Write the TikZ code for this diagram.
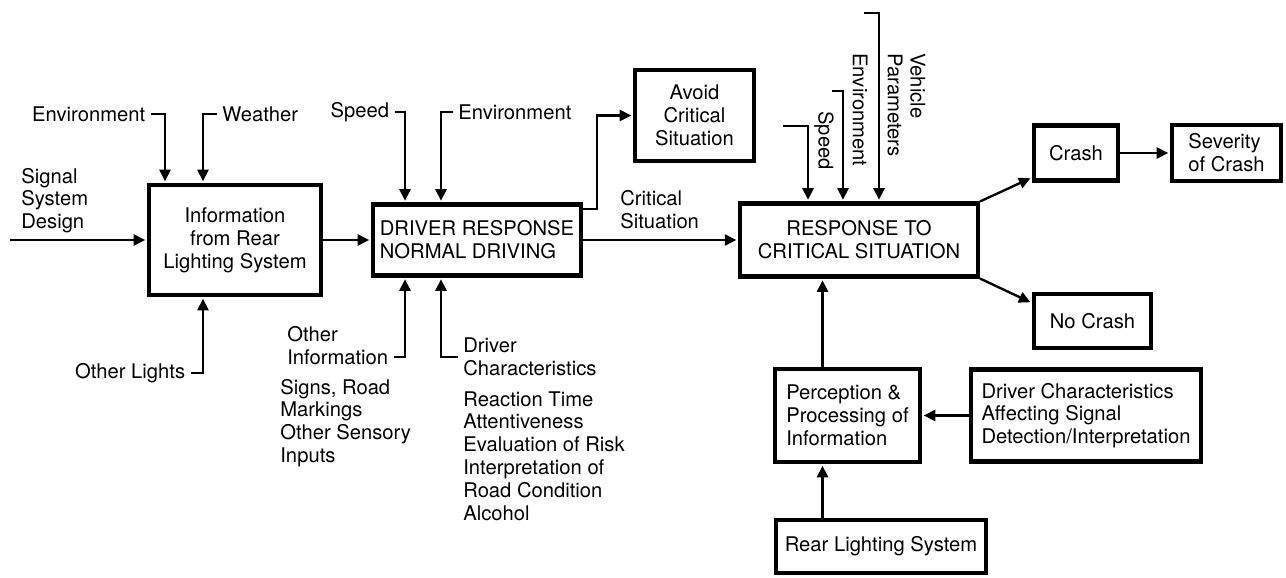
\documentclass[tikz,border=0pt]{standalone}
\usepackage{fontspec}
\setmainfont{TeX Gyre Heros}
\usepackage{tikz}
\usetikzlibrary{arrows.meta, positioning}
\tikzset{
  bloc/.style={rectangle, draw=black, line width=2.3pt, fill=white,
    align=center, inner sep=1.2mm},
  fleche/.style={-{Triangle[length=2.3mm, width=2.2mm]}, line width=1.35pt,
    shorten >=1pt},
  etiquette/.style={align=left, inner sep=1.1mm}
}

\begin{document}
\begin{tikzpicture}[x=0.02cm, y=-0.02cm, font=\fontsize{11.5}{13}\selectfont]
    \useasboundingbox (0,0) rectangle (1286,578);

    % Blocs
    \node[bloc, minimum width=3.44cm, minimum height=2.2cm] (info) at (235,240)
      {Information\\from Rear\\Lighting System};
    \node[bloc, minimum width=4.16cm, minimum height=1.42cm, align=left] (driver) at (477,240)
      {DRIVER RESPONSE\\NORMAL DRIVING};
    \node[bloc, minimum width=2.38cm, minimum height=1.82cm] (avoid) at (694.5,115.5)
      {Avoid\\Critical\\Situation};
    \node[bloc, minimum width=4.76cm, minimum height=1.46cm] (resp) at (859,240)
      {RESPONSE TO\\CRITICAL SITUATION};
    \node[bloc, minimum width=1.68cm, minimum height=1.1cm] (crash) at (1076,153) {Crash};
    \node[bloc, minimum width=2.18cm, minimum height=1.12cm, align=left] (sev) at (1226.5,153)
      {Severity\\of Crash};
    \node[bloc, minimum width=2.34cm, minimum height=1.08cm] (nocrash) at (1092.5,321) {No Crash};
    \node[bloc, minimum width=2.9cm, minimum height=1.86cm, align=left] (percep) at (847.5,415.5)
      {Perception \&\\Processing of\\Information};
    \node[bloc, minimum width=4.6cm, minimum height=1.84cm, align=left] (drvchar) at (1086,415.5)
      {Driver Characteristics\\Affecting Signal\\Detection/Interpretation};
    \node[bloc, minimum width=4.2cm, minimum height=1.06cm, align=left] (rear) at (881,546.5)
      {Rear Lighting System};

    % Etiquettes
    \node[etiquette, anchor=east] (envA) at (151,114) {Environment};
    \node[etiquette, anchor=west] (wthr) at (216.5,114) {Weather};
    \node[etiquette, anchor=west] (sigD) at (15.5,200.5) {Signal\\System\\Design};
    \node[etiquette, anchor=east] (othL) at (191,373) {Other Lights};
    \node[etiquette, anchor=east] (spd1) at (395,112) {Speed};
    \node[etiquette, anchor=west] (env2) at (452.5,112) {Environment};
    \node[etiquette, anchor=east] (othI) at (394,346) {Other\\Information};
    \node[etiquette, anchor=west] (signs) at (274.5,423) {Signs, Road\\Markings\\Other Sensory\\Inputs};
    \node[etiquette, anchor=west] (drvC) at (457.5,357) {Driver\\Characteristics};
    \node[etiquette, anchor=west] (drvL) at (457.5,456)
      {Reaction Time\\Attentiveness\\Evaluation of Risk\\Interpretation of\\Road Condition\\Alcohol};
    \node[etiquette, anchor=west] (crit) at (614.5,210) {Critical\\Situation};
    \node[etiquette, rotate=-90] (spd3) at (824,140.5) {Speed};
    \node[etiquette, rotate=-90] (env3) at (860,110) {Environment};
    \node[etiquette, rotate=-90] (veh) at (906.5,105) {Vehicle\\Parameters};

    \coordinate (sigIn) at (10,240);
    \coordinate (spdT) at (783,126);
    \coordinate (envT) at (832,91);
    \coordinate (vehT) at (864,13);

    % Entrees
    \draw[fleche] (sigIn) -- (info.west);
    \draw[fleche] (envA.east) -| ([xshift=-1.4cm]info.north);
    \draw[fleche] (wthr.west) -| ([xshift=-0.64cm]info.north);
    \draw[fleche] (othL.east) -| ([xshift=-0.64cm]info.south);
    \draw[fleche] (info) -- (driver);
    \draw[fleche] (spd1.east) -| ([xshift=-1.44cm]driver.north);
    \draw[fleche] (env2.west) -| ([xshift=-0.72cm]driver.north);
    \draw[fleche] ([yshift=-0.22cm]othI.east) -| ([xshift=-1.44cm]driver.south);
    \draw[fleche] (drvC.west) -| ([xshift=-0.72cm]driver.south);

    % Situation critique
    \draw[fleche] ([yshift=0.62cm]driver.east) -- ++(14,0) |- (avoid.west);
    \draw[fleche] (driver) -- (resp);
    \draw[fleche] (spdT) -| ([xshift=-1.02cm]resp.north);
    \draw[fleche] (envT) -| ([xshift=-0.32cm]resp.north);
    \draw[fleche] (vehT) -| ([xshift=0.4cm]resp.north);
    \draw[fleche] (resp.north east) -- ([yshift=0.1cm]crash.south west);
    \draw[fleche] (resp.south east) -- ([yshift=-0.22cm]nocrash.north west);
    \draw[fleche] (crash) -- (sev);

    % Perception
    \coordinate (pu) at ([xshift=-0.5cm]percep.north);
    \draw[fleche] (drvchar) -- (percep);
    \draw[fleche] (pu) -- (pu |- resp.south);
    \draw[fleche] (rear.north -| pu) -- (pu |- percep.south);
\end{tikzpicture}
\end{document}
